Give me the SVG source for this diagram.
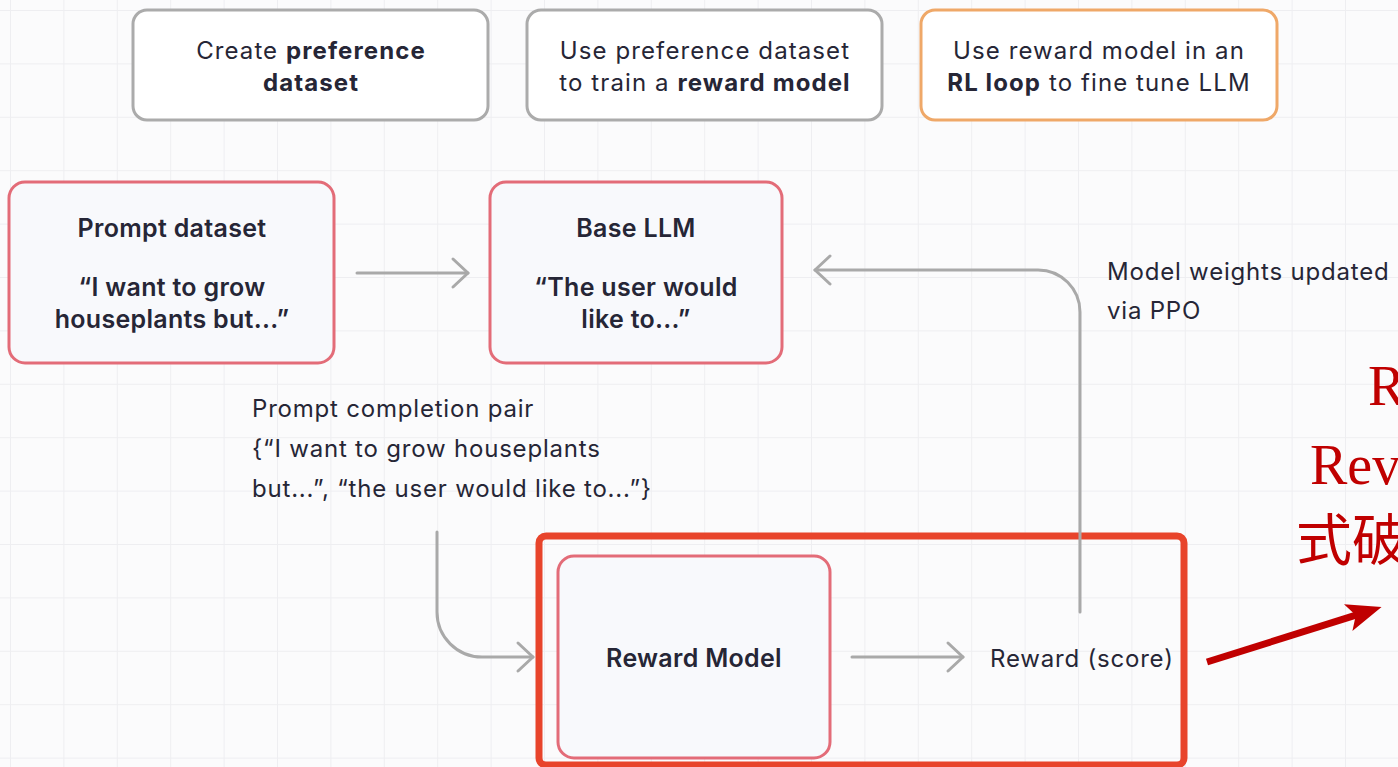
<svg xmlns="http://www.w3.org/2000/svg" width="1398" height="767" viewBox="0 0 1398 767">
  <defs>
    <pattern id="grid" x="10" y="10" width="53.4" height="53.4" patternUnits="userSpaceOnUse">
      <path d="M0,0 H53.4 M0,0 V53.4" fill="none" stroke="#eeeef1" stroke-width="2"/>
    </pattern>
    <marker id="chev" viewBox="-20 -20 40 40" markerWidth="40" markerHeight="40" refX="0" refY="0" orient="auto" markerUnits="userSpaceOnUse">
      <path d="M-15,-14 L0,0 L-15,14" fill="none" stroke="#a9a9a9" stroke-width="3" stroke-linecap="round" stroke-linejoin="round"/>
    </marker>
  </defs>
  <style>
    .t { font-family: "Inter", "Liberation Sans", sans-serif; fill: #262636; }
    .reg { font-size: 24px; font-weight: 400; letter-spacing: 0.8px; }
    .hdr { font-size: 24px; font-weight: 400; letter-spacing: 1.1px; }
    .med { font-size: 25px; font-weight: 600; letter-spacing: 0.3px; }
    .b { font-weight: 700; }
    .stage { fill: #ffffff; stroke: #ababab; stroke-width: 3; }
    .stage-rl { fill: #ffffff; stroke: #efa868; stroke-width: 3; }
    .node { fill: #f8f9fc; stroke: #e36c78; stroke-width: 3; }
    .link { fill: none; stroke: #a9a9a9; stroke-width: 3; stroke-linecap: round; marker-end: url(#chev); }
    .note { font-family: "Liberation Serif", "Noto Sans CJK SC", serif; font-size: 56px; fill: #c00000; }
  </style>

  <!-- page background with faint grid -->
  <rect width="1398" height="767" fill="#fbfbfc"/>
  <rect width="1398" height="767" fill="url(#grid)"/>

  <!-- three stage headers -->
  <g id="stage-preference">
    <rect class="stage" x="133" y="10" width="355" height="110" rx="14"/>
    <text class="t hdr" x="311" y="59" text-anchor="middle">Create <tspan class="b">preference</tspan></text>
    <text class="t hdr b" x="311" y="91" text-anchor="middle">dataset</text>
  </g>
  <g id="stage-reward">
    <rect class="stage" x="527" y="10" width="355" height="110" rx="14"/>
    <text class="t hdr" x="705" y="59" text-anchor="middle">Use preference dataset</text>
    <text class="t hdr" x="705" y="91" text-anchor="middle">to train a <tspan class="b">reward model</tspan></text>
  </g>
  <g id="stage-rl">
    <rect class="stage-rl" x="921" y="10" width="356" height="110" rx="14"/>
    <text class="t hdr" x="1099" y="59" text-anchor="middle">Use reward model in an</text>
    <text class="t hdr" x="1099" y="91" text-anchor="middle"><tspan class="b">RL loop</tspan> to fine tune LLM</text>
  </g>

  <!-- highlight frame around the reward step -->
  <rect id="reward-frame" x="539" y="536" width="645" height="229" rx="7" fill="none" stroke="#e8442b" stroke-width="7"/>

  <!-- nodes -->
  <g id="prompt-dataset">
    <rect class="node" x="9" y="182" width="325" height="181" rx="16"/>
    <text class="t med" x="172" y="237" text-anchor="middle">Prompt dataset</text>
    <text class="t med" x="172" y="296" text-anchor="middle">“I want to grow</text>
    <text class="t med" x="172" y="328" text-anchor="middle">houseplants but...”</text>
  </g>
  <g id="base-llm">
    <rect class="node" x="490" y="182" width="292" height="181" rx="16"/>
    <text class="t med" x="636" y="237" text-anchor="middle">Base LLM</text>
    <text class="t med" x="636" y="296" text-anchor="middle">“The user would</text>
    <text class="t med" x="636" y="328" text-anchor="middle">like to...”</text>
  </g>
  <g id="reward-model">
    <rect class="node" x="558" y="556" width="272" height="202" rx="16"/>
    <text class="t med" x="694" y="667" text-anchor="middle">Reward Model</text>
  </g>
  <g id="reward-score">
    <text class="t reg" x="990" y="667">Reward (score)</text>
  </g>
  <g id="ppo-label">
    <text class="t reg" x="1107" y="280">Model weights updated</text>
    <text class="t reg" x="1107" y="319">via PPO</text>
  </g>
  <g id="pair-label">
    <text class="t reg" x="252" y="417">Prompt completion pair</text>
    <text class="t reg" x="252" y="457">{“I want to grow houseplants</text>
    <text class="t reg" x="252" y="497">but...”, “the user would like to...”}</text>
  </g>

  <!-- connectors -->
  <g id="connectors">
    <path class="link" d="M357,273 H468"/>
    <path class="link" d="M1080,612 V312 A42,42 0 0 0 1038,270 H815"/>
    <path class="link" d="M437,532 V612 A45,45 0 0 0 482,657 H533"/>
    <path class="link" d="M852,657 H963"/>
  </g>

  <!-- red annotation, running off the right edge -->
  <g id="annotation">
    <g transform="translate(1207,662) rotate(-17.45)">
      <line x1="0" y1="0" x2="162" y2="0" stroke="#c00000" stroke-width="7"/>
      <polygon points="183,0 148,-14 156,0 148,14" fill="#c00000"/>
    </g>
    <text class="note" x="1368" y="405">R</text>
    <text class="note" x="1310" y="484">Rev</text>
    <text class="note" x="1296" y="560">式破</text>
  </g>
</svg>
